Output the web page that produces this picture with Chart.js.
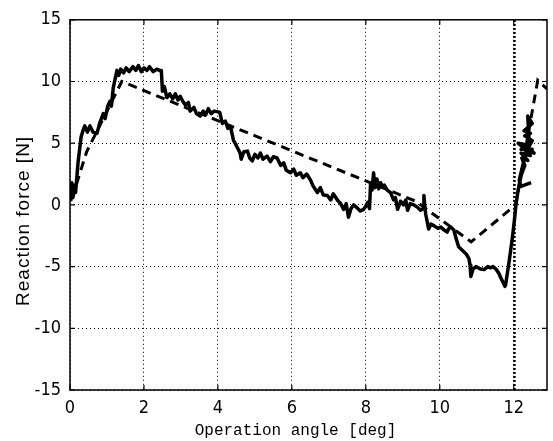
<!DOCTYPE html>
<html>
<head>
<meta charset="utf-8">
<script src="https://cdn.jsdelivr.net/npm/chart.js@4/dist/chart.umd.min.js"></script>
<style>
html, body { margin: 0; padding: 0; background: #fff; }
#wrap { width: 553px; height: 441px; position: relative; }
</style>
</head>
<body>
<div id="wrap"><canvas id="forceChart"></canvas></div>
<script>
// measured reaction force (solid)
const measAngle = [0.02,0.05,0.08,0.12,0.15,0.22,0.3,0.35,0.4,0.47,0.54,0.62,0.73,0.8,0.9,0.95,1.02,1.08,1.12,1.17,
  1.22,1.27,1.32,1.37,1.45,1.52,1.6,1.7,1.78,1.85,1.93,2.0,2.08,2.15,2.25,2.35,2.42,2.47,2.5,2.55,
  2.62,2.7,2.78,2.85,2.92,2.98,3.05,3.12,3.2,3.25,3.35,3.42,3.52,3.6,3.67,3.74,3.82,3.9,3.98,4.05,
  4.12,4.2,4.27,4.34,4.42,4.5,4.6,4.63,4.7,4.8,4.86,4.93,5.0,5.08,5.15,5.22,5.33,5.42,5.5,5.6,
  5.7,5.78,5.85,5.96,6.05,6.12,6.23,6.3,6.4,6.5,6.58,6.69,6.77,6.85,6.96,7.05,7.12,7.24,7.32,7.4,
  7.47,7.53,7.6,7.67,7.75,7.85,7.94,8.0,8.05,8.1,8.13,8.17,8.21,8.25,8.3,8.35,8.4,8.45,8.5,8.58,
  8.67,8.75,8.8,8.86,8.94,9.02,9.08,9.13,9.2,9.3,9.4,9.48,9.55,9.57,9.6,9.62,9.7,9.76,9.85,9.95,
  10.03,10.1,10.2,10.25,10.3,10.38,10.45,10.51,10.58,10.65,10.72,10.79,10.82,10.84,10.9,10.98,11.1,11.2,11.3,11.38,
  11.44,11.52,11.6,11.65,11.7,11.76,11.78,11.88,11.97,12.02,12.06,12.12,12.2,12.3,12.22,12.38,12.2,12.45,12.25,12.55,
  12.3,12.12,12.35,12.5,12.3,12.45,12.28,12.5,12.38,12.42,12.2,12.5,12.3,12.15,12.2,12.47];
const measForce = [0.3,1.8,0.6,1.6,1.0,3.5,5.5,6.0,6.4,5.9,6.4,5.9,5.8,6.6,7.4,7.0,8.0,8.4,8.0,9.5,
  10.2,10.9,10.5,11.0,10.7,11.1,10.8,11.2,10.9,11.3,10.8,11.1,10.9,11.2,10.8,11.0,10.9,10.9,9.2,9.6,
  8.7,9.0,8.6,9.0,8.5,8.8,8.4,8.1,8.3,7.6,7.9,7.4,7.2,7.6,7.3,7.8,7.4,7.6,7.56,7.5,
  6.6,6.8,6.2,6.36,5.24,4.8,4.2,3.7,4.3,4.36,3.8,3.56,4.1,3.8,4.2,3.7,3.96,3.5,3.9,3.8,
  3.2,3.4,2.8,2.6,2.9,2.4,2.6,2.2,2.5,2.04,1.5,1.0,1.4,0.8,0.76,0.4,0.9,0.36,0.1,-0.36,
  0.1,-1.0,-0.3,0.0,-0.2,-0.5,-0.36,-0.1,0.2,-0.3,1.8,1.2,2.6,1.4,2.1,1.3,1.8,1.5,1.6,1.2,
  1.0,0.4,0.6,-0.36,0.3,0.0,0.4,-0.44,0.1,0.0,-0.2,-0.44,-0.3,0.76,-0.2,-0.76,-1.96,-1.56,-1.7,-1.9,
  -1.8,-2.0,-2.2,-1.9,-1.8,-2.04,-2.8,-3.4,-3.6,-3.8,-4.0,-4.36,-4.9,-5.8,-5.2,-5.0,-5.2,-5.24,-5.0,-5.1,
  -5.0,-5.2,-5.56,-5.9,-6.2,-6.6,-6.5,-4.5,-2.5,-1.2,0.0,1.2,2.4,3.2,3.8,3.6,4.2,4.0,4.6,4.2,
  4.9,5.0,4.4,5.2,5.6,5.8,6.0,6.6,7.2,5.0,4.5,4.5,3.9,2.0,1.5,1.8];

// model curve (dashed)
const modelAngle = [0.05, 0.45, 1.4, 4.1, 9.35, 10.85, 12.05, 12.65, 12.9];
const modelForce = [0.5, 4.3, 10.0, 6.7, 0.3, -3.0, 0.0, 10.1, 9.4];

// switching position (dotted vertical)
const switchAngle = [12.02, 12.02];
const switchForce = [-15, 15];

const xTicks = [0, 2, 4, 6, 8, 10, 12];
const yTicks = [-15, -10, -5, 0, 5, 10, 15];

const xTitle = 'Operation angle [deg]';
const yTitle = 'Reaction force [N]';

function pts(xs, ys) {
  return xs.map((x, i) => ({ x: x, y: ys[i] }));
}

const tickFont = { family: "'Liberation Sans Narrow', 'DejaVu Sans Condensed', 'Liberation Sans', sans-serif", size: 18 };

// frame, inward ticks and axis titles
const framePlugin = {
  id: 'frame',
  afterDraw(chart) {
    const ctx = chart.ctx;
    const a = chart.chartArea;
    const xs = chart.scales.x, ys = chart.scales.y;
    ctx.save();
    ctx.strokeStyle = '#000';
    ctx.lineWidth = 1.5;
    ctx.strokeRect(a.left, a.top, a.right - a.left, a.bottom - a.top);
    ctx.lineWidth = 1.2;
    ctx.beginPath();
    xTicks.forEach(v => {
      const px = xs.getPixelForValue(v);
      ctx.moveTo(px, a.bottom); ctx.lineTo(px, a.bottom - 5);
      ctx.moveTo(px, a.top); ctx.lineTo(px, a.top + 5);
    });
    yTicks.forEach(v => {
      const py = ys.getPixelForValue(v);
      ctx.moveTo(a.left, py); ctx.lineTo(a.left + 5, py);
      ctx.moveTo(a.right, py); ctx.lineTo(a.right - 5, py);
    });
    ctx.stroke();

    ctx.fillStyle = '#000';
    ctx.textAlign = 'center';
    ctx.textBaseline = 'middle';
    ctx.font = "16px 'Liberation Mono', 'DejaVu Sans Mono', monospace";
    ctx.fillText(xTitle, (a.left + a.right) / 2 - 13, 431);
    ctx.translate(24, (a.top + a.bottom) / 2 + 16);
    ctx.rotate(-Math.PI / 2);
    ctx.font = "19px 'Liberation Sans', sans-serif";
    ctx.letterSpacing = '1px';
    ctx.fillText(yTitle, 0, 0);
    ctx.restore();
  }
};

const ctx = document.getElementById('forceChart').getContext('2d');
const chart = new Chart(ctx, {
  type: 'scatter',
  data: {
    datasets: [
      {
        label: 'measured',
        data: pts(measAngle, measForce),
        showLine: true,
        borderColor: '#000',
        borderWidth: 3.5,
        borderJoinStyle: 'round',
        pointRadius: 0,
        tension: 0
      },
      {
        label: 'model',
        data: pts(modelAngle, modelForce),
        showLine: true,
        borderColor: '#000',
        borderWidth: 3,
        borderDash: [9, 6],
        pointRadius: 0,
        tension: 0
      },
      {
        label: 'switch',
        data: pts(switchAngle, switchForce),
        showLine: true,
        borderColor: '#000',
        borderWidth: 2.5,
        borderDash: [2, 2],
        pointRadius: 0
      }
    ]
  },
  options: {
    responsive: true,
    maintainAspectRatio: false,
    animation: false,
    layout: { padding: { left: 0, top: 15, right: 6, bottom: 0 } },
    plugins: {
      legend: { display: false },
      tooltip: { enabled: false }
    },
    scales: {
      x: {
        type: 'linear',
        min: 0,
        max: 12.9,
        afterBuildTicks: s => { s.ticks = xTicks.map(v => ({ value: v })); },
        afterFit: s => { s.height = 51; },
        ticks: { color: '#000', font: tickFont, padding: 8, maxRotation: 0 },
        grid: { color: '#000', lineWidth: 1, drawTicks: false },
        border: { display: false, dash: [1, 3] }
      },
      y: {
        type: 'linear',
        min: -15,
        max: 15,
        afterBuildTicks: s => { s.ticks = yTicks.map(v => ({ value: v })); },
        afterFit: s => { s.width = 70; },
        ticks: { color: '#000', font: tickFont, padding: 9 },
        grid: { color: '#000', lineWidth: 1, drawTicks: false },
        border: { display: false, dash: [1, 3] }
      }
    }
  },
  plugins: [framePlugin]
});
</script>
</body>
</html>
